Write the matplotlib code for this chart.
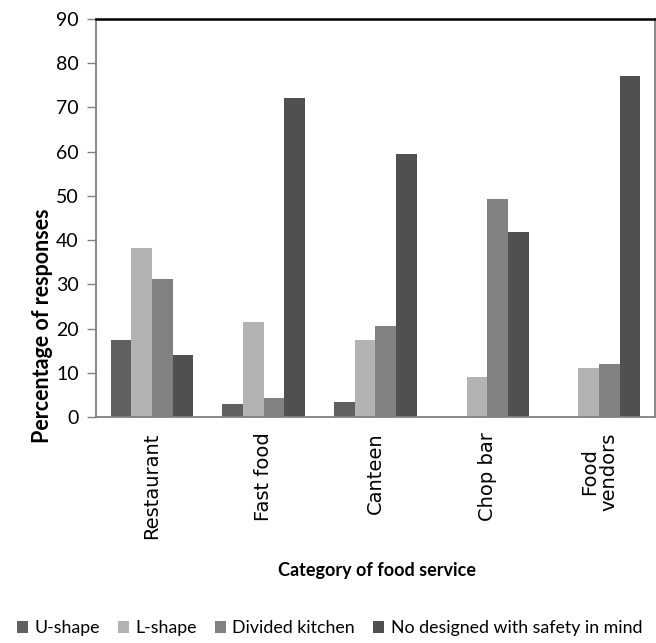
import matplotlib
matplotlib.use("Agg")
import matplotlib.pyplot as plt
import numpy as np

categories = ["Restaurant", "Fast food", "Canteen", "Chop bar", "Food\nvendors"]
series_names = ["U-shape", "L-shape", "Divided kitchen", "No designed with safety in mind"]
u_shape = [17.4, 2.9, 3.3, 0.0, 0.0]
l_shape = [38.2, 21.5, 17.4, 9.0, 11.1]
divided = [31.2, 4.3, 20.6, 49.3, 12.0]
no_design = [14.0, 72.1, 59.4, 41.9, 77.1]
y_ticks = [0, 10, 20, 30, 40, 50, 60, 70, 80, 90]

series = [u_shape, l_shape, divided, no_design]
colors = ["#606060", "#b3b3b3", "#818181", "#505050"]

narrow = ["Lato", "DejaVu Sans"]

fig = plt.figure(figsize=(6.56, 6.43), dpi=100)
ax = fig.add_axes([0.1463, 0.3515, 0.8522, 0.619])

x = np.arange(len(categories))
w = 0.185
for i, (vals, c, name) in enumerate(zip(series, colors, series_names)):
    ax.bar(x + (i - 1.5) * w, vals, width=w, color=c, label=name, linewidth=0)

ax.set_xlim(-0.5, len(categories) - 0.5)
ax.set_ylim(0, 90)
ax.set_yticks(y_ticks)
ax.set_yticklabels([str(t) for t in y_ticks], family=narrow, fontsize=14)
ax.tick_params(axis="y", length=6.5, width=1, color="#808080", pad=6)
ax.set_xticks(x)
ax.set_xticklabels(categories, rotation=90, fontsize=14, family="DejaVu Sans",
                   va="top", ha="center", linespacing=1.0, multialignment="center")
ax.tick_params(axis="x", length=0, pad=11)

for side in ["left", "bottom", "right"]:
    ax.spines[side].set_color("#808080")
    ax.spines[side].set_linewidth(1.3)
ax.spines["top"].set_color("black")
ax.spines["top"].set_linewidth(1.8)

ax.set_ylabel("Percentage of responses", family=narrow, fontsize=15.5,
              fontweight="bold")
ax.yaxis.set_label_coords(-0.077, 0.23)
fig.text(0.574, 0.113, "Category of food service", family=narrow, fontsize=13,
         fontweight="bold", ha="center", va="center")

handles, labels = ax.get_legend_handles_labels()
leg = fig.legend(handles, labels, loc="center", bbox_to_anchor=(0.502, 0.023), ncol=4,
                 frameon=False, handlelength=0.65, handleheight=0.65, handletextpad=0.35,
                 columnspacing=1.0, prop={"family": narrow, "size": 12.8})

fig.savefig("out.png", dpi=100)
